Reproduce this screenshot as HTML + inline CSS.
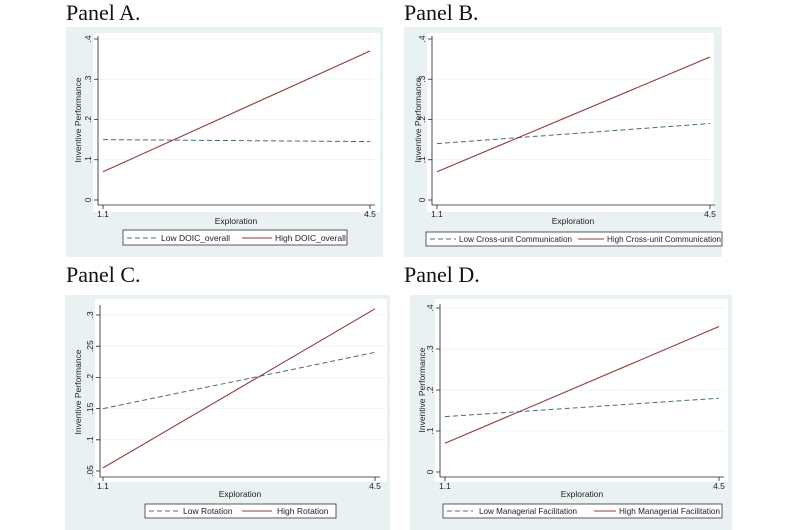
<!DOCTYPE html>
<html><head><meta charset="utf-8"><style>
html,body{margin:0;padding:0;background:#fff;}
svg{display:block;}
.t{font-family:"Liberation Serif",serif;font-size:22px;fill:#111;}
.s{font-family:"Liberation Sans",sans-serif;font-size:8.5px;fill:#222;}
.bg{fill:#e9f1f3;}
.pl{fill:#fff;}
.ax{stroke:#222;stroke-width:0.8;fill:none;}
.gr{stroke:#edf1f2;stroke-width:0.8;}
.hi{stroke:#8e3b3b;stroke-width:1.1;fill:none;}
.lo{stroke:#4d6c78;stroke-width:1;stroke-dasharray:5,3;fill:none;}
.lg{fill:#fff;stroke:#333;stroke-width:0.8;}
</style></head><body>
<svg width="800" height="530" viewBox="0 0 800 530" xmlns="http://www.w3.org/2000/svg">
<!-- Panel A -->
<text class="t" x="66" y="20">Panel A.</text>
<rect class="bg" x="66" y="27" width="317" height="230"/>
<rect class="pl" x="93" y="33" width="287" height="179"/>
<line class="gr" x1="98" x2="378" y1="159.75" y2="159.75"/><line class="gr" x1="98" x2="378" y1="119.5" y2="119.5"/><line class="gr" x1="98" x2="378" y1="79.25" y2="79.25"/><line class="gr" x1="98" x2="378" y1="39" y2="39"/>
<path class="ax" d="M98 36V205H375M94 200H98M94 159.75H98M94 119.5H98M94 79.25H98M94 39H98M103 205V209M370 205V209"/>
<line class="lo" x1="103" y1="139.6" x2="370" y2="141.6"/>
<line class="hi" x1="103" y1="171.8" x2="370" y2="51"/>
<g class="s" text-anchor="middle">
<text transform="translate(91,200) rotate(-90)">0</text><text transform="translate(91,159.75) rotate(-90)">.1</text><text transform="translate(91,119.5) rotate(-90)">.2</text><text transform="translate(91,79.25) rotate(-90)">.3</text><text transform="translate(91,39) rotate(-90)">.4</text>
<text transform="translate(81,120) rotate(-90)">Inventive Performance</text>
<text x="103" y="217">1.1</text><text x="370" y="217">4.5</text><text x="236" y="224">Exploration</text>
</g>
<rect class="lg" x="123" y="230" width="224" height="15"/>
<line class="lo" x1="127" y1="238" x2="158" y2="238"/><text class="s" x="161" y="241">Low DOIC_overall</text>
<line class="hi" x1="242" y1="238" x2="272" y2="238"/><text class="s" x="275" y="241">High DOIC_overall</text>

<!-- Panel B -->
<text class="t" x="404" y="20">Panel B.</text>
<rect class="bg" x="404" y="27" width="318" height="230"/>
<rect class="pl" x="427" y="33" width="287" height="179"/>
<line class="gr" x1="432" x2="712" y1="159.75" y2="159.75"/><line class="gr" x1="432" x2="712" y1="119.5" y2="119.5"/><line class="gr" x1="432" x2="712" y1="79.25" y2="79.25"/><line class="gr" x1="432" x2="712" y1="39" y2="39"/>
<path class="ax" d="M432 36V205H715M428 200H432M428 159.75H432M428 119.5H432M428 79.25H432M428 39H432M437 205V209M710 205V209"/>
<line class="lo" x1="437" y1="143.6" x2="710" y2="123.5"/>
<line class="hi" x1="437" y1="171.8" x2="710" y2="57"/>
<g class="s" text-anchor="middle">
<text transform="translate(425,200) rotate(-90)">0</text><text transform="translate(425,159.75) rotate(-90)">.1</text><text transform="translate(425,119.5) rotate(-90)">.2</text><text transform="translate(425,79.25) rotate(-90)">.3</text><text transform="translate(425,39) rotate(-90)">.4</text>
<text transform="translate(421,120) rotate(-90)">Inventive Performance</text>
<text x="437" y="217">1.1</text><text x="710" y="217">4.5</text><text x="573" y="224">Exploration</text>
</g>
<rect class="lg" x="426" y="232" width="296" height="14"/>
<line class="lo" x1="430" y1="239" x2="456" y2="239"/><text class="s" x="459" y="242" textLength="113" lengthAdjust="spacingAndGlyphs">Low Cross-unit Communication</text>
<line class="hi" x1="578" y1="239" x2="604" y2="239"/><text class="s" x="607" y="242" textLength="114" lengthAdjust="spacingAndGlyphs">High Cross-unit Communication</text>

<!-- Panel C -->
<text class="t" x="66" y="282">Panel C.</text>
<rect class="bg" x="65" y="295" width="325" height="235"/>
<rect class="pl" x="95" y="299" width="292" height="183"/>
<line class="gr" x1="100" x2="385" y1="439.8" y2="439.8"/><line class="gr" x1="100" x2="385" y1="408.6" y2="408.6"/><line class="gr" x1="100" x2="385" y1="377.4" y2="377.4"/><line class="gr" x1="100" x2="385" y1="346.2" y2="346.2"/><line class="gr" x1="100" x2="385" y1="315" y2="315"/>
<path class="ax" d="M100 305V477H380M96 471H100M96 439.8H100M96 408.6H100M96 377.4H100M96 346.2H100M96 315H100M103 477V481M375 477V481"/>
<line class="lo" x1="103" y1="408.6" x2="375" y2="352.4"/>
<line class="hi" x1="103" y1="467.9" x2="375" y2="308.8"/>
<g class="s" text-anchor="middle">
<text transform="translate(93,471) rotate(-90)">.05</text><text transform="translate(93,439.8) rotate(-90)">.1</text><text transform="translate(93,408.6) rotate(-90)">.15</text><text transform="translate(93,377.4) rotate(-90)">.2</text><text transform="translate(93,346.2) rotate(-90)">.25</text><text transform="translate(93,315) rotate(-90)">.3</text>
<text transform="translate(81,392) rotate(-90)">Inventive Performance</text>
<text x="103" y="489">1.1</text><text x="375" y="489">4.5</text><text x="240" y="497">Exploration</text>
</g>
<rect class="lg" x="145" y="504" width="191" height="14"/>
<line class="lo" x1="149" y1="511" x2="178" y2="511"/><text class="s" x="183" y="514">Low Rotation</text>
<line class="hi" x1="242" y1="511" x2="272" y2="511"/><text class="s" x="277" y="514">High Rotation</text>

<!-- Panel D -->
<text class="t" x="404" y="282">Panel D.</text>
<rect class="bg" x="410" y="295" width="322" height="235"/>
<rect class="pl" x="435" y="299" width="293" height="183"/>
<line class="gr" x1="440" x2="725" y1="431" y2="431"/><line class="gr" x1="440" x2="725" y1="390" y2="390"/><line class="gr" x1="440" x2="725" y1="349" y2="349"/><line class="gr" x1="440" x2="725" y1="308" y2="308"/>
<path class="ax" d="M440 304V477H724M436 472H440M436 431H440M436 390H440M436 349H440M436 308H440M445 477V481M719 477V481"/>
<line class="lo" x1="445" y1="416.6" x2="719" y2="398.2"/>
<line class="hi" x1="445" y1="443.3" x2="719" y2="326.5"/>
<g class="s" text-anchor="middle">
<text transform="translate(433,472) rotate(-90)">0</text><text transform="translate(433,431) rotate(-90)">.1</text><text transform="translate(433,390) rotate(-90)">.2</text><text transform="translate(433,349) rotate(-90)">.3</text><text transform="translate(433,308) rotate(-90)">.4</text>
<text transform="translate(425,390) rotate(-90)">Inventive Performance</text>
<text x="445" y="489">1.1</text><text x="719" y="489">4.5</text><text x="582" y="497">Exploration</text>
</g>
<rect class="lg" x="443" y="504" width="279" height="14"/>
<line class="lo" x1="447" y1="511" x2="473" y2="511"/><text class="s" x="479" y="514" textLength="98" lengthAdjust="spacingAndGlyphs">Low Managerial Facilitation</text>
<line class="hi" x1="594" y1="511" x2="616" y2="511"/><text class="s" x="619" y="514" textLength="101" lengthAdjust="spacingAndGlyphs">High Managerial Facilitation</text>
</svg>
</body></html>
